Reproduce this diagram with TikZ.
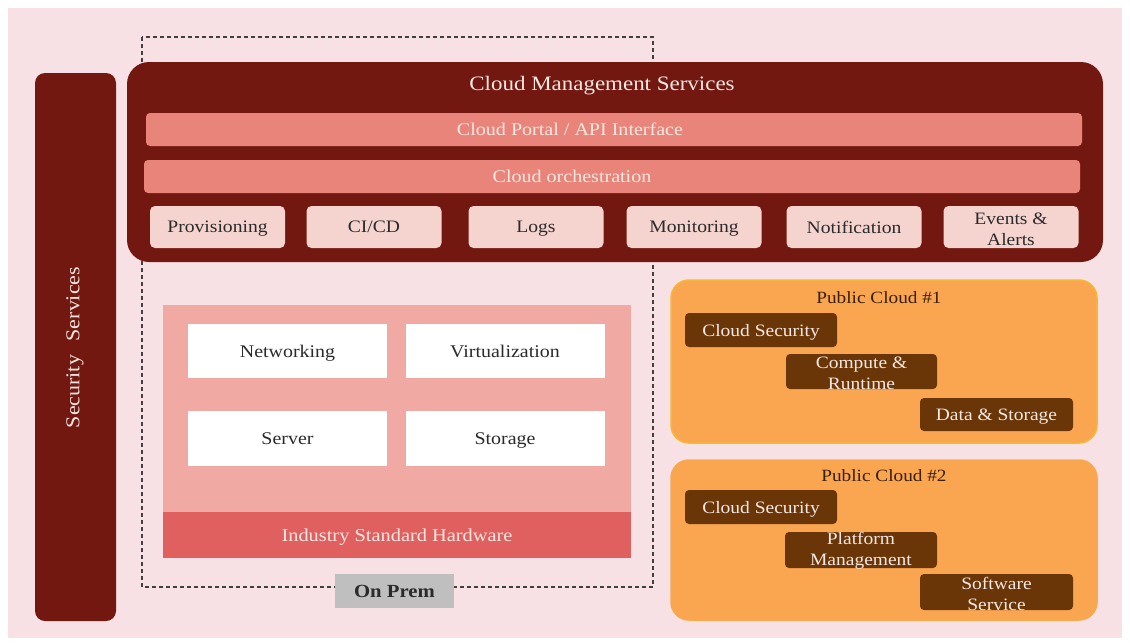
\documentclass[tikz,border=0pt]{standalone}
\usepackage{fontspec}
\setmainfont{Liberation Serif}[FakeStretch=1.12]
\definecolor{bgpink}{HTML}{F8E1E4}
\definecolor{darkred}{HTML}{731811}
\definecolor{barpink}{HTML}{E8847A}
\definecolor{lightbox}{HTML}{F5D4D0}
\definecolor{prempink}{HTML}{F1A9A3}
\definecolor{hwred}{HTML}{E05F5F}
\definecolor{grayl}{HTML}{BFBFBF}
\definecolor{orangec}{HTML}{FAA650}
\definecolor{orangeb}{HTML}{F6B733}
\definecolor{brownc}{HTML}{6A3608}
\definecolor{textdark}{HTML}{2A2A2A}
\definecolor{textlight}{HTML}{F8E8E2}
\definecolor{titlebrown}{HTML}{3A1E08}
\tikzset{
  lbl/.style={inner sep=0pt, align=center, text depth=0pt},
  sz/.style={font=\fontsize{#1}{20}\selectfont},
  one/.style={text depth=0pt},
  bar/.style={fill=barpink, rounded corners=4pt, minimum width=936pt, minimum height=33pt, inner sep=0pt},
  svc/.style={fill=lightbox, rounded corners=5pt, minimum width=135pt, minimum height=42pt, inner sep=0pt, align=center, text=textdark, font=\fontsize{17.5}{20.5}\selectfont},
  hw/.style={fill=white, minimum width=199pt, minimum height=54pt, inner sep=0pt, text=textdark, text depth=0pt, font=\fontsize{17.8}{20}\selectfont},
  pcloud/.style={fill=orangec, draw=#1, line width=1.5pt, rounded corners=18pt, minimum width=426pt, inner sep=0pt},
  brn/.style={fill=brownc, rounded corners=4pt, minimum width=152pt, inner sep=0pt, align=center, text=textlight, font=\fontsize{17.4}{20.5}\selectfont},
  twotxt/.style={inner sep=0pt, align=center, font=\fontsize{17.4}{20.8}\selectfont},
}
\begin{document}
\begin{tikzpicture}[x=1pt,y=-1pt]
\useasboundingbox[fill=white] (0,0) rectangle (1130,643);
\fill[bgpink] (8,8) rectangle (1122,638);
% security services
\node[fill=darkred, rounded corners=10pt, minimum width=81pt, minimum height=548pt, inner sep=0pt] (sec) at (75.5,347) {};
\node[lbl, rotate=90, text=textlight, sz=19.6] (sectxt) at (73,347.5) {Security\hspace{0.7em}Services};
% on prem dashed
\draw[dashed, dash pattern=on 4pt off 3pt, line width=1.1pt, draw=black!75] (142,37) rectangle (653,587);
% cloud management
\node[fill=darkred, rounded corners=22pt, minimum width=976pt, minimum height=200pt, inner sep=0pt] (cms) at (615,162) {};
\node[lbl, text=textlight, sz=20.5] (cmstitle) at (602,83) {Cloud Management Services};
\node[bar] (portal) at (614,129.5) {};
\node[lbl, text=textlight, sz=17.9] (portaltxt) at (570,129) {Cloud Portal / API Interface};
\node[bar] (orch) at (612,176.5) {};
\node[lbl, text=textlight, sz=17.9] (orchtxt) at (572,176.5) {Cloud orchestration};
\node[svc, one] (prov) at (217.5,227) {Provisioning};
\node[svc, one] (cicd) at (374,227) {CI/CD};
\node[svc, one] (logs) at (536,227) {Logs};
\node[svc, one] (mon) at (694,227) {Monitoring};
\node[svc, one] (notif) at (854,227) {Notification};
\node[svc] (events) at (1011,227) {};
\node[twotxt, text=textdark] (eventstxt) at (1011,229) {Events \&\\Alerts};
% on prem
\node[fill=prempink, minimum width=468pt, minimum height=253pt, inner sep=0pt] (prem) at (397,431.5) {};
\node[fill=hwred, minimum width=468pt, minimum height=46pt, inner sep=0pt, text=textlight, text depth=0pt, font=\fontsize{18.2}{20}\selectfont] (hwbar) at (397,535) {Industry Standard Hardware};
\node[hw] (net) at (287.5,351) {Networking};
\node[hw] (virt) at (505,351) {Virtualization};
\node[hw, minimum height=55pt] (server) at (287.5,438.5) {Server};
\node[hw, minimum height=55pt] (storage) at (505,438.5) {Storage};
\node[fill=grayl, minimum width=119pt, minimum height=34pt, inner sep=0pt, text=textdark, text depth=0pt, font=\bfseries\fontsize{18.5}{20}\selectfont] (onprem) at (394.5,591) {On Prem};
% public cloud 1
\node[pcloud=orangeb, minimum height=163pt] (pc1) at (884,361.5) {};
\node[lbl, text=titlebrown, sz=17.2] (pc1t) at (879,298) {Public Cloud \#1};
\node[brn, one, minimum height=34pt] (cs1) at (761,330) {Cloud Security};
\node[brn, minimum height=35pt, minimum width=151pt] (cr1) at (861.5,371.5) {};
\node[twotxt, text=textlight] (cr1txt) at (861.5,373) {Compute \&\\Runtime};
\node[brn, one, minimum height=33pt, minimum width=153pt] (ds1) at (996.5,414.5) {Data \& Storage};
% public cloud 2
\node[pcloud=orangec!90!orangeb, minimum height=160pt] (pc2) at (884,540) {};
\node[lbl, text=titlebrown, sz=17.2] (pc2t) at (884,476) {Public Cloud \#2};
\node[brn, one, minimum height=34pt] (cs2) at (761,507) {Cloud Security};
\node[brn, minimum height=36pt] (pm2) at (861,550) {};
\node[twotxt, text=textlight] (pm2txt) at (861,551) {Platform\\Management};
\node[brn, minimum height=36pt, minimum width=153pt] (ss2) at (996.5,592) {};
\node[twotxt, text=textlight] (ss2txt) at (996.5,594) {Software\\Service};
\end{tikzpicture}
\end{document}
